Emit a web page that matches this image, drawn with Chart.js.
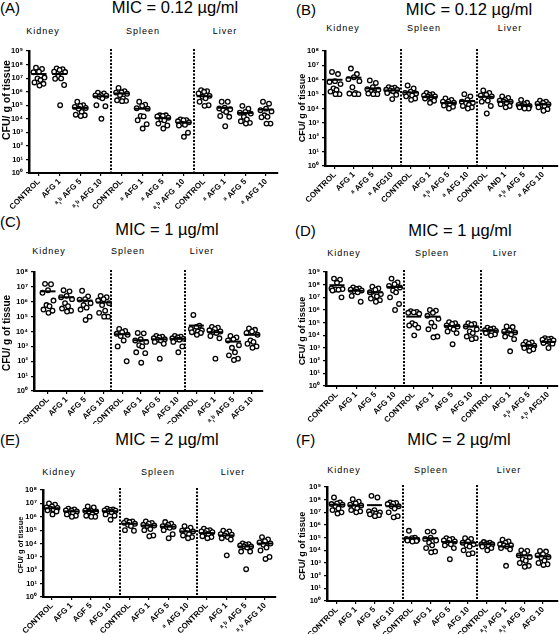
<!DOCTYPE html>
<html><head><meta charset="utf-8">
<script src="https://cdn.jsdelivr.net/npm/chart.js@4.4.0/dist/chart.umd.min.js"></script>
<style>
html,body{margin:0;padding:0;background:#fff;}
#wrap{position:relative;width:560px;height:634px;overflow:hidden;font-family:"Liberation Sans",Arial,sans-serif;background:#fff;}
canvas{position:absolute;}
.t{position:absolute;white-space:nowrap;line-height:1;color:#000;}
</style></head><body><div id="wrap"></div>
<script>
// ---------------- DATA ----------------
const organs = ['Kidney', 'Spleen', 'Liver'];
const panelLetters = ['(A)', '(B)', '(C)', '(D)', '(E)', '(F)'];
const micTitles = ['MIC = 0.12 µg/ml', 'MIC = 0.12 µg/ml', 'MIC = 1 µg/ml', 'MIC = 1 µg/ml', 'MIC = 2 µg/ml', 'MIC = 2 µg/ml'];
const yAxisTitle = 'CFU/ g of tissue';

const labelsA = ['CONTROL','AFG 1','ᵃ,ᵇ AFG 5','ᵃ,ᵇ AFG 10','CONTROL','ᵃ AFG 1','ᵃ AFG 5','ᵃ,ᵇ AFG  10','CONTROL','ᵃ AFG 1','ᵃ AFG 5','ᵃ AFG 10'];
const labelsB = ['CONTROL','AFG 1','ᵃ AFG 5','ᵃ AFG10','CONTROL','AFG 1','ᵃ,ᵇ AFG 5','ᵃ AFG 10','CONTROL','AND 1','ᵃ,ᵇ AFG 5','ᵃ AFG 10'];
const labelsC = ['CONTROL','AFG 1','AFG 5','AFG 10','CONTROL','AFG 1','AFG 5','AFG 10','CONTROL','AFG 1','ᵃ,ᵇ AFG 5','AFG 10'];
const labelsD = ['CONTROL','AFG 1','AFG 5','AFG 10','CONTROL','AFG 1','AFG 5','AFG 10','CONTROL','AFG 1','ᵃ,ᵇ AFG 5','ᵃ,ᵇ AFG10'];
const labelsE = ['CONTROL','AFG 1','AGF 5','AFG 10','CONTROL','AFG 1','AFG 5','ᵃ AFG 10','CONTROL','AFG 1','ᵃ,ᵇ AFG 5','ᵃ,ᵇ AFG 10'];
const labelsF = ['CONTROL','AFG 1','AFG 5','AFG 10','CONTROL','AFG 1','AFG 5','AFG 10','CONTROL','ᵃ,ᵇ AFG 1','ᵃ,ᵇ AFG 5','AFG 10'];

// top decade of each panel's y axis (10^0 .. 10^n)
const yTopExp = [9, 8, 8, 9, 8, 9];

// CFU/g per animal, groups: Kidney CONTROL, AFG1, AFG5, AFG10, Spleen ..., Liver ...
const cfuA = [
 [5.9e7,4.7e7,3.0e7,2.7e7,1.1e7,9.5e6,7.2e6,4.8e6,3.8e6,2.8e6],
 [5.2e7,4.5e7,4.0e7,3.0e7,2.8e7,1.3e7,9.5e6,9.0e6,3.1e6,1.0e5],
 [1.8e5,1.0e5,9.0e4,7.5e4,6.3e4,5.5e4,3.2e4,2.0e4,1.8e4,1.6e4],
 [8.3e5,7.5e5,5.5e5,5.2e5,5.0e5,4.2e5,3.2e5,1.0e5,8.5e4,1.0e4],
 [1.9e6,1.1e6,9.0e5,8.5e5,7.0e5,5.5e5,3.2e5,2.3e5,2.1e5,2.0e5],
 [1.8e5,1.1e5,9.0e4,6.0e4,5.6e4,1.6e4,1.5e4,7.8e3,4.0e3,1.9e3],
 [1.8e4,1.8e4,1.6e4,1.5e4,1.2e4,9.0e3,7.8e3,4.4e3,3.2e3,1.9e3],
 [9.0e3,8.0e3,7.8e3,6.5e3,5.5e3,4.4e3,3.6e3,3.2e3,9.4e2,4.7e2],
 [1.3e6,1.1e6,9.8e5,7.4e5,4.9e5,4.2e5,3.2e5,1.8e5,1.0e5,9.0e4],
 [1.8e5,1.8e5,6.5e4,5.8e4,5.0e4,4.3e4,3.2e4,1.6e4,1.4e4,2.8e3],
 [9.0e4,5.6e4,3.2e4,2.8e4,2.4e4,1.4e4,9.0e3,6.5e3,5.0e3,4.4e3],
 [1.8e5,1.3e5,5.6e4,4.3e4,3.5e4,1.8e4,1.4e4,1.3e4,4.4e3,4.4e3]
];
const meanA = [2.0e7,2.0e7,6.3e4,4.5e5,7.4e5,5.5e4,1.1e4,5.2e3,4.6e5,6.5e4,2.7e4,4.8e4];

const cfuB = [
 [3.5e6,2.5e6,8e5,7e5,5e5,2.5e5,2e5,1.5e5,1e5,1e5],
 [6e6,2.5e6,1.5e6,1.1e6,8e5,3e5,1.2e5,1.1e5,1e5,1e5],
 [9e5,6e5,3e5,2.2e5,2e5,1.5e5,1.2e5,1.1e5,1e5,1e5],
 [3e5,2.8e5,2.5e5,2e5,2e5,1.8e5,1.6e5,1.2e5,9e4,4.5e4],
 [4e5,2.5e5,1.5e5,1.2e5,1.1e5,1e5,8e4,7e4,5e4,4e4],
 [1.2e5,1e5,9e4,8e4,7e4,6.5e4,6e4,5e4,3.5e4,2.5e4],
 [5e4,4e4,3e4,3e4,2.5e4,2.2e4,2e4,1.6e4,1.3e4,1e4],
 [1e5,7e4,4e4,3e4,2.5e4,2.2e4,1.8e4,1.5e4,1.2e4,1e4],
 [1.8e5,1.2e5,9e4,8e4,7e4,5e4,3.5e4,3e4,1.5e4,4.5e3],
 [7e4,5.5e4,4e4,3.5e4,3e4,3e4,2.5e4,2e4,1.5e4,1.2e4],
 [4e4,2.5e4,2e4,1.8e4,1.5e4,1.5e4,1.3e4,1.2e4,1e4,1e4],
 [3.5e4,3e4,2.5e4,2.2e4,2e4,1.6e4,1.5e4,1.2e4,9e3,7e3]
];
const meanB = [1e6,1.4e6,2.5e5,1.8e5,1.3e5,6.2e4,2.4e4,3.3e4,6.5e4,3e4,1.7e4,1.9e4];

const cfuC = [
 [1.6e7,1.5e7,6e6,4e6,1.2e6,6e5,5e5,3e5,2.5e5,1.8e5],
 [6e6,5e6,2.5e6,2e6,1.5e6,8e5,5e5,3.5e5,2.5e5,2.2e5],
 [5.5e6,2.3e6,1.5e6,1.4e6,8e5,6e5,4e5,3e5,1e5,6e4],
 [2.5e6,2e6,1.5e6,1.2e6,8e5,6e5,2.5e5,1.8e5,1e5,1e5],
 [1.5e4,1.1e4,9e3,7e3,6e3,5e3,2.5e3,1e3,1e2],
 [8e3,7.5e3,3e3,2.5e3,2e3,1.2e3,1e3,4e2,3.5e2,8e1],
 [5e3,4.5e3,4e3,3.5e3,3e3,2.8e3,2.5e3,2e3,1.5e3,1.5e2],
 [5e3,4.5e3,4e3,3.5e3,3.2e3,3e3,2.8e3,2e3,1e3,4e2],
 [1.3e5,2.5e4,2e4,1.5e4,1.2e4,1.1e4,1e4,9e3,8e3,6e3],
 [2e4,1.8e4,1.5e4,1.2e4,1e4,9e3,8e3,5e3,3.5e3,1.5e2],
 [5e3,4e3,3e3,2.5e3,1.2e3,8e2,4e2,2.5e2,1.5e2,1.2e2],
 [1.6e4,1.3e4,1e4,8e3,6e3,2.5e3,2e3,1.5e3,1e3,8e2]
];
const meanC = [5e6,2e6,1.2e6,9e5,6.5e3,2.6e3,3e3,3.2e3,2.5e4,9e3,2.1e3,6e3];

const cfuD = [
 [3e8,2.5e8,1.4e8,5e7,4.5e7,4.2e7,4e7,3.5e7,1e7],
 [6e7,5e7,4.5e7,4e7,3.5e7,3e7,2.5e7,1.3e7,4.5e6],
 [7e7,5e7,4e7,2.5e7,1.8e7,1.3e7,1.2e7,8e6,6e6,4.5e6],
 [3e8,1.5e8,1.1e8,8e7,6e7,3.5e7,2.5e7,1e7,3e6,1e6],
 [8e5,7e5,6.5e5,6e5,5e5,9e4,7e4,6e4,4e4,1e4],
 [1e6,9e5,6e5,3.5e5,2e5,1e5,5e4,3e4,8e3,7e3],
 [1.1e5,9e4,8e4,6e4,5e4,4e4,3e4,2e4,1.5e4,2e3],
 [9e4,8e4,7e4,5e4,3e4,2e4,1.5e4,8e3,6e3,5e3],
 [4e4,3.5e4,3e4,2.5e4,2.2e4,2e4,1.8e4,1.5e4,1.2e4,1e4],
 [5e4,4.5e4,2.5e4,2e4,1.7e4,1.5e4,1.2e4,8e3,5e3,5.5e2],
 [3e3,2.8e3,2.2e3,1.8e3,1.5e3,1.3e3,1.2e3,1e3,8e2,6e2],
 [6e3,5.5e3,5e3,4.5e3,4e3,3.5e3,3e3,2.5e3,2.2e3,1e3]
];
const meanD = [9e7,3.3e7,2.5e7,6.5e7,3e5,3e5,5.5e4,5e4,2.3e4,1.7e4,1.5e3,3e3];

const cfuE = [
 [1e7,8e6,6e6,5e6,4.5e6,4e6,3.5e6,3e6,2.5e6,1.5e6],
 [4e6,3.5e6,3e6,3e6,2.5e6,2.2e6,2e6,1.5e6,1.2e6,1e6],
 [6e6,5e6,3e6,2.8e6,2.5e6,2.5e6,1.5e6,1.2e6,1e6,1e6],
 [4e6,3.5e6,3.2e6,3e6,2.8e6,2.5e6,2.2e6,1.5e6,1.2e6,6e5],
 [5e5,4.5e5,4e5,3.5e5,3e5,2.5e5,2e5,1e5,9e4],
 [4.5e5,3.5e5,3e5,2.5e5,2.2e5,2e5,1.2e5,1e5,4e4,3.5e4],
 [4e5,3e5,2.5e5,2e5,1.8e5,1.7e5,1.5e5,1e5,5e4,2.5e4],
 [2e5,1.5e5,1e5,9e4,8e4,6e4,5e4,4e4,3e4,2.5e4],
 [1.3e5,1e5,9e4,8e4,7e4,6e4,5e4,3.5e4,3e4,2.5e4],
 [9e4,8e4,6e4,5e4,4.5e4,4e4,3e4,2.5e4,2e4,1.3e3],
 [1e4,9e3,8e3,7e3,6e3,6e3,5e3,2.5e3,2.5e3,1.2e2],
 [3e4,2e4,1.5e4,1.2e4,1e4,8e3,5e3,3e3,1e3,7e2]
];
const meanE = [4.3e6,2.5e6,2.7e6,2.6e6,3e5,2.2e5,1.8e5,8e4,6e4,4e4,6e3,1e4];

const cfuF = [
 [1.5e8,6e7,5e7,4.5e7,4e7,3e7,2e7,1.5e7,1e7,8e6],
 [1.1e8,7e7,5e7,4e7,3.5e7,2.5e7,2e7,1.5e7,1.2e7,1e7],
 [2e8,1.5e8,1.5e7,1.2e7,1e7,9e6,8e6,7e6,6e6,5e6],
 [6e7,5.5e7,5e7,4.5e7,3e7,3e7,2e7,1e7,5e6,4e6],
 [3.5e5,1e5,9e4,8e4,7e4,6.5e4,6e4,6e4,5.5e4,5e4],
 [3e5,3e5,1e5,8e4,6e4,4e4,2.5e4,1.5e4,8e3,7e3],
 [9e4,8e4,7e4,6e4,5e4,4e4,3e4,2.5e4,1.5e4,2e3],
 [9e4,8e4,5e4,4e4,3e4,2.5e4,2e4,1e4,6e3,5e3],
 [4.5e4,4e4,3.5e4,3e4,3e4,2.8e4,2.5e4,2e4,1.5e4,1e4],
 [7e4,5e4,4e4,3e4,2.5e4,2.5e4,2e4,1.5e4,1.2e4,6e2],
 [1e4,9e3,6e3,4e3,3e3,2e3,1.5e3,1e3,6e2,5e2],
 [9e3,8e3,5e3,4e3,3e3,2.5e3,1.5e3,1e3,8e2,7e2]
];
const meanF = [4e7,3.5e7,3.7e7,3e7,9e4,9e4,4.5e4,4e4,3e4,2e4,4e3,3.3e3];

// ---------------- LAYOUT / STYLE ----------------
const FONT = '"Liberation Sans", Arial, sans-serif';
const JITTER_PX = [-3, 3, 0, -5.5, 5.5, -1.5, 1.5, -4.5, 4.5, 0.5];
const SUP = ['⁰','¹','²','³','⁴','⁵','⁶','⁷','⁸','⁹'];

const panels = [
 {cfu:cfuA, mean:meanA, labels:labelsA, x:0,   y:0,   w:280, h:210, L:29,  R:278, T:51,  B:173, c0:39,  c11:266, sep:[3.5,7.5], ytx:7,   yty:100, yts:10.5,
  let:[0,13], tit:[175,13], org:[[43,35],[143,35],[225,35]]},
 {cfu:cfuB, mean:meanB, labels:labelsB, x:280, y:0,   w:280, h:210, L:325, R:558, T:51,  B:166, c0:335, c11:543, sep:[3.5,7.5], ytx:303, yty:108, yts:9,
  let:[296,15], tit:[469,15], org:[[343,32],[424,32],[510,32]]},
 {cfu:cfuC, mean:meanC, labels:labelsC, x:0,   y:210, w:280, h:214, L:34,  R:263, T:272, B:391, c0:48,  c11:252, sep:[3.4,7.4], ytx:7,   yty:333, yts:10,
  let:[0,227], tit:[167,235], org:[[49,255],[128,255],[202,255]]},
 {cfu:cfuD, mean:meanD, labels:labelsD, x:280, y:210, w:280, h:214, L:326, R:558, T:272, B:386, c0:337, c11:548, sep:[3.5,7.5], ytx:303, yty:331, yts:9,
  let:[295,236], tit:[460,236], org:[[344,257],[432,257],[505,257]]},
 {cfu:cfuE, mean:meanE, labels:labelsE, x:0,   y:424, w:280, h:210, L:43,  R:276, T:490, B:597, c0:52,  c11:265, sep:[3.5,7.5], ytx:21,  yty:545, yts:7.5,
  let:[0,445], tit:[167,445], org:[[59,476],[158,476],[233,476]]},
 {cfu:cfuF, mean:meanF, labels:labelsF, x:280, y:424, w:280, h:210, L:327, R:558, T:487, B:601, c0:337, c11:543, sep:[3.5,7.5], ytx:303, yty:546, yts:9,
  let:[296,445], tit:[459,445], org:[[344,474],[431,474],[509,474]]}
];

Chart.defaults.font.family = FONT;
Chart.defaults.color = '#000';

const wrap = document.getElementById('wrap');

function addText(txt, x, baseline, size, opts) {
  const d = document.createElement('div');
  d.className = 't';
  d.textContent = txt;
  d.style.fontSize = size + 'px';
  d.style.top = (baseline - 0.8465 * size) + 'px';
  d.style.left = x + 'px';
  if (opts && opts.center) d.style.transform = 'translateX(-50%)';
  if (opts && opts.ls) d.style.letterSpacing = opts.ls + 'px';
  wrap.appendChild(d);
}

const overlayPlugin = {
  id: 'overlay',
  afterDatasetsDraw(chart, args, o) {
    const {ctx, chartArea} = chart;
    const xs = chart.scales.x;
    ctx.save();
    ctx.strokeStyle = '#000';
    ctx.lineWidth = 2;
    ctx.setLineDash([2, 1.5]);
    o.at.forEach(v => {
      const px = Math.round(xs.getPixelForValue(v));
      ctx.beginPath();
      ctx.moveTo(px, chartArea.top - 2);
      ctx.lineTo(px, chartArea.bottom);
      ctx.stroke();
    });
    ctx.restore();
    ctx.save();
    ctx.translate(o.tx, o.ty);
    ctx.rotate(-Math.PI / 2);
    ctx.font = 'bold ' + o.ts + 'px ' + FONT;
    ctx.fillStyle = '#000';
    ctx.textAlign = 'center';
    ctx.textBaseline = 'middle';
    ctx.fillText(yAxisTitle, 0, 0);
    ctx.restore();
  }
};

panels.forEach((p, k) => {
  addText(panelLetters[k], p.let[0], p.let[1], 15);
  addText(micTitles[k], p.tit[0], p.tit[1], 16.5, {center: true});
  organs.forEach((o, j) => addText(o, p.org[j][0], p.org[j][1], 9, {center: true, ls: 1}));

  const c = document.createElement('canvas');
  c.width = p.w; c.height = p.h;
  c.style.left = p.x + 'px'; c.style.top = p.y + 'px';
  c.style.width = p.w + 'px'; c.style.height = p.h + 'px';
  wrap.appendChild(c);

  const L = p.L - p.x, R = p.R - p.x, T = p.T - p.y, B = p.B - p.y;
  const s = (p.c11 - p.c0) / 11;
  const xmin = -(p.c0 - p.L) / s, xmax = 11 + (p.R - p.c11) / s;
  const topExp = yTopExp[k];

  const pts = [];
  p.cfu.forEach((g, i) => g.forEach((v, j) => pts.push({x: i + JITTER_PX[j % JITTER_PX.length] / s, y: v})));
  const means = p.mean.map((m, i) => ({x: i, y: m}));

  new Chart(c, {
    type: 'scatter',
    data: {datasets: [
      {data: means, pointStyle: 'line', pointRadius: 7.5, pointHoverRadius: 7.5, pointBorderWidth: 2,
       pointBorderColor: '#000', pointBackgroundColor: '#000', showLine: false},
      {data: pts, pointStyle: 'circle', pointRadius: 2.3, pointHoverRadius: 2.3, pointBorderWidth: 1.3,
       pointBorderColor: '#000', pointBackgroundColor: '#fff', showLine: false}
    ]},
    options: {
      responsive: false, animation: false, devicePixelRatio: 1, events: [],
      layout: {autoPadding: false, padding: {left: 0, top: T, right: p.w - R, bottom: 0}},
      plugins: {legend: {display: false}, tooltip: {enabled: false},
        overlay: {at: p.sep, tx: p.ytx - p.x, ty: p.yty - p.y, ts: p.yts}},
      scales: {
        x: {type: 'linear', min: xmin, max: xmax,
          afterBuildTicks: sc => { sc.ticks = p.labels.map((_, i) => ({value: i})); },
          afterFit: sc => { sc.height = p.h - B; sc.paddingLeft = 0; sc.paddingRight = 0; },
          ticks: {autoSkip: false, minRotation: 45, maxRotation: 45, padding: 1, color: '#000',
            font: {family: FONT, size: 8, weight: 'bold'},
            callback: (v, i) => p.labels[i]},
          grid: {drawOnChartArea: false, drawTicks: true, tickLength: 3, color: '#000', lineWidth: 1.2},
          border: {display: true, color: '#000', width: 2}
        },
        y: {type: 'logarithmic', min: 1, max: Math.pow(10, topExp),
          afterBuildTicks: sc => { const t = []; for (let e = 0; e <= topExp; e++) t.push({value: Math.pow(10, e)}); sc.ticks = t; },
          afterFit: sc => { sc.width = L; sc.paddingTop = 0; sc.paddingBottom = 0; },
          ticks: {padding: 3, color: '#000', font: {family: FONT, size: 7.5, weight: 'bold'},
            callback: v => '10' + SUP[Math.round(Math.log10(v))]},
          grid: {drawOnChartArea: false, drawTicks: true, tickLength: 3, color: '#000', lineWidth: 1.2},
          border: {display: true, color: '#000', width: 2.5}
        }
      }
    },
    plugins: [overlayPlugin]
  });
});
</script>
</body></html>
